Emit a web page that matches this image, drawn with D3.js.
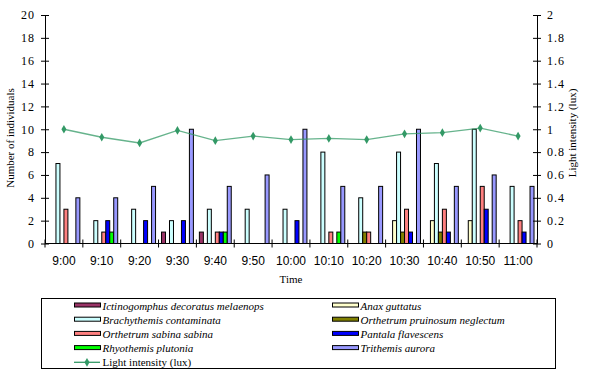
<!DOCTYPE html>
<html>
<head>
<meta charset="utf-8">
<script src="https://cdn.jsdelivr.net/npm/d3@7"></script>
<style>
    body { margin: 0; background: #ffffff; }
    svg { display: block; }
    text { font-family: "Liberation Serif", "Times New Roman", serif; fill: #000; }
</style>
</head>
<body>
<svg id="chart" width="601" height="384"></svg>
<script>
// time of observation
const times = ["9:00", "9:10", "9:20", "9:30", "9:40", "9:50", "10:00", "10:10", "10:20", "10:30", "10:40", "10:50", "11:00"];

// number of individuals per species
const ictinogomphus = [0, 0, 0, 1, 1, 0, 0, 0, 0, 0, 0, 0, 0];
const anax = [0, 0, 0, 0, 0, 0, 0, 0, 0, 2, 2, 2, 0];
const brachythemis = [7, 2, 3, 2, 3, 3, 3, 8, 4, 8, 7, 10, 5];
const pruinosum = [0, 0, 0, 0, 0, 0, 0, 0, 1, 1, 1, 0, 0];
const sabina = [3, 1, 0, 0, 1, 0, 0, 1, 1, 3, 3, 5, 2];
const pantala = [0, 2, 2, 2, 1, 0, 2, 0, 0, 1, 1, 3, 1];
const rhyothemis = [0, 1, 0, 0, 1, 0, 0, 1, 0, 0, 0, 0, 0];
const trithemis = [4, 4, 5, 10, 5, 6, 10, 5, 5, 10, 5, 6, 5];

// light intensity (lux)
const light = [1.0, 0.93, 0.88, 0.99, 0.90, 0.94, 0.91, 0.92, 0.91, 0.96, 0.97, 1.01, 0.94];

const speciesNames = [
    "Ictinogomphus decoratus melaenops", "Anax guttatus", "Brachythemis contaminata",
    "Orthetrum pruinosum neglectum", "Orthetrum sabina sabina", "Pantala flavescens",
    "Rhyothemis plutonia", "Trithemis aurora"
];
const speciesValues = [ictinogomphus, anax, brachythemis, pruinosum, sabina, pantala, rhyothemis, trithemis];
const speciesColors = ["#993366", "#FFFFCC", "#CCFFFF", "#808000", "#FF8080", "#0000FF", "#00FF00", "#9999FF"];
const lineColor = "#339966";

const svg = d3.select("#chart");
const plotLeft = 45, plotRight = 537, plotTop = 15, plotBottom = 243.5;

const x0 = d3.scaleBand().domain(times).range([plotLeft, plotRight]);
const x1 = d3.scaleBand().domain(d3.range(speciesNames.length))
    .range([0, x0.bandwidth()]).paddingOuter(0.75);
const y = d3.scaleLinear().domain([0, 20]).range([plotBottom, plotTop]);
const y2 = d3.scaleLinear().domain([0, 2]).range([plotBottom, plotTop]);

// bars
const bars = [];
times.forEach((t, i) => {
    speciesValues.forEach((vals, s) => {
        if (vals[i] > 0) bars.push({ t, s, v: vals[i] });
    });
});

svg.append("g").selectAll("rect")
    .data(bars)
    .enter()
    .append("rect")
    .attr("x", d => x0(d.t) + x1(d.s))
    .attr("y", d => y(d.v))
    .attr("width", x1.bandwidth())
    .attr("height", d => y(0) - y(d.v))
    .attr("fill", d => speciesColors[d.s])
    .attr("stroke", "#000")
    .attr("stroke-width", 1);

// light line
const line = d3.line()
    .x((d, i) => x0(times[i]) + x0.bandwidth() / 2)
    .y(d => y2(d));

svg.append("path")
    .datum(light)
    .attr("d", line)
    .attr("fill", "none")
    .attr("stroke", lineColor)
    .attr("stroke-opacity", 0.75)
    .attr("stroke-width", 1.3);

const diamond = d3.symbol().type(d3.symbolDiamond).size(22);
svg.append("g").selectAll("path")
    .data(light)
    .enter()
    .append("path")
    .attr("d", diamond)
    .attr("transform", (d, i) => `translate(${x0(times[i]) + x0.bandwidth() / 2},${y2(d)})`)
    .attr("fill", lineColor);

// axes
const yAxis = svg.append("g")
    .attr("transform", `translate(${plotLeft},0)`)
    .call(d3.axisLeft(y).tickValues(d3.range(0, 21, 2)).tickSize(4).tickPadding(6).tickSizeOuter(0));
yAxis.selectAll(".tick line").attr("x2", -4).attr("x1", 4);

const y2Axis = svg.append("g")
    .attr("transform", `translate(${plotRight},0)`)
    .call(d3.axisRight(y2).tickValues(d3.range(0, 2.01, 0.2)).tickSize(4).tickPadding(6).tickSizeOuter(0)
        .tickFormat(d => d3.format("~g")(+d.toFixed(1))));
y2Axis.selectAll(".tick line").attr("x2", 4).attr("x1", -4);

[yAxis, y2Axis].forEach(g => {
    g.select(".domain").attr("stroke", "#000");
    g.selectAll(".tick line").attr("stroke", "#000");
    g.selectAll("text")
        .style("font-family", "'Liberation Serif', serif")
        .style("font-size", "12px")
        .style("letter-spacing", "1px")
        .attr("fill", "#000");
});

const xAxis = svg.append("g")
    .attr("transform", `translate(0,${plotBottom})`);
xAxis.append("line")
    .attr("x1", plotLeft).attr("x2", plotRight)
    .attr("stroke", "#000");
xAxis.selectAll(".tk")
    .data(times.concat(["end"]))
    .enter()
    .append("line")
    .attr("x1", (d, i) => plotLeft + i * x0.step())
    .attr("x2", (d, i) => plotLeft + i * x0.step())
    .attr("y1", -4).attr("y2", 4)
    .attr("stroke", "#000");
xAxis.selectAll("text")
    .data(times)
    .enter()
    .append("text")
    .attr("x", d => x0(d) + x0.bandwidth() / 2)
    .attr("y", 21)
    .attr("text-anchor", "middle")
    .style("font-family", "'Liberation Sans', Arial, sans-serif")
    .style("font-size", "12px")
    .text(d => d);

// axis titles
svg.append("text")
    .attr("x", (plotLeft + plotRight) / 2)
    .attr("y", 283)
    .attr("text-anchor", "middle")
    .style("font-size", "11px")
    .text("Time");

svg.append("text")
    .attr("transform", "translate(14,138) rotate(-90)")
    .attr("text-anchor", "middle")
    .style("font-size", "11px")
    .text("Number of individuals");

svg.append("text")
    .attr("transform", "translate(576,133) rotate(-90)")
    .attr("text-anchor", "middle")
    .style("font-size", "11px")
    .text("Light intensity (lux)");

// legend
const legend = svg.append("g");
legend.append("rect")
    .attr("x", 41.5).attr("y", 298.5)
    .attr("width", 514).attr("height", 70)
    .attr("fill", "none")
    .attr("stroke", "#000");

const legendItems = speciesNames.map((name, s) => ({ name, s }));
legendItems.forEach((item, k) => {
    const col = k % 2, row = Math.floor(k / 2);
    const lx = col === 0 ? 74.5 : 332.5;
    const ly = 305.5 + row * 14.2;
    legend.append("rect")
        .attr("x", lx).attr("y", ly - 2.5)
        .attr("width", 26).attr("height", 4)
        .attr("fill", speciesColors[item.s])
        .attr("stroke", "#000");
    legend.append("text")
        .attr("x", lx + 28)
        .attr("y", ly + 4)
        .style("font-size", "11px")
        .style("font-style", "italic")
        .text(item.name);
});

const lly = 305.5 + 4 * 14.2;
legend.append("line")
    .attr("x1", 74).attr("x2", 100)
    .attr("y1", lly).attr("y2", lly)
    .attr("stroke", lineColor)
    .attr("stroke-width", 1.3);
legend.append("path")
    .attr("d", diamond)
    .attr("transform", `translate(87,${lly})`)
    .attr("fill", lineColor);
legend.append("text")
    .attr("x", 102.5)
    .attr("y", lly + 4)
    .style("font-size", "11px")
    .text("Light intensity (lux)");
</script>
</body>
</html>
